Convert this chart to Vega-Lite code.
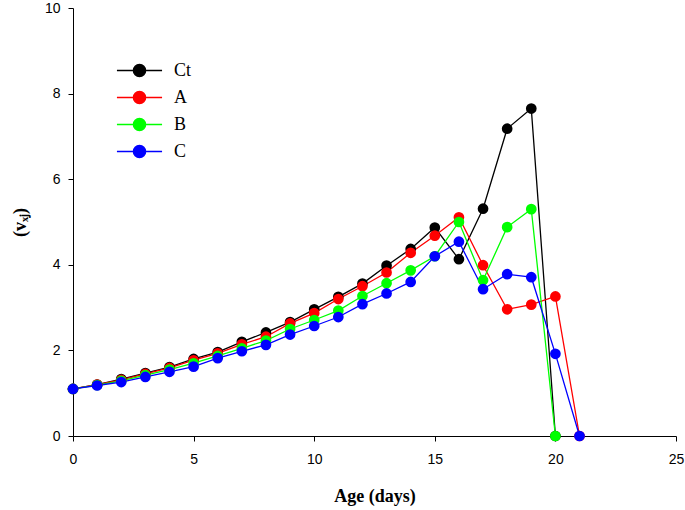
{
  "$schema": "https://vega.github.io/schema/vega-lite/v6.json",
  "width": 603,
  "height": 428,
  "autosize": {"type": "none"},
  "padding": {"left": 73, "top": 8, "right": 9, "bottom": 74},
  "background": "white",
  "config": {
    "view": {"stroke": null},
    "axis": {
      "grid": false,
      "labelFlush": false,
      "domainColor": "black",
      "tickColor": "black",
      "tickSize": 5,
      "labelFont": "Liberation Sans",
      "labelFontSize": 14,
      "labelColor": "black",
      "titleFont": "Liberation Serif",
      "titleFontSize": 18,
      "titleFontWeight": "bold",
      "titleColor": "black"
    }
  },
  "datasets": {
    "d": [
      {"s":"Ct","d":0,"v":1.1},{"s":"Ct","d":1,"v":1.2},{"s":"Ct","d":2,"v":1.33},{"s":"Ct","d":3,"v":1.47},{"s":"Ct","d":4,"v":1.61},{"s":"Ct","d":5,"v":1.8},{"s":"Ct","d":6,"v":1.96},{"s":"Ct","d":7,"v":2.2},{"s":"Ct","d":8,"v":2.42},{"s":"Ct","d":9,"v":2.66},{"s":"Ct","d":10,"v":2.96},{"s":"Ct","d":11,"v":3.25},{"s":"Ct","d":12,"v":3.56},{"s":"Ct","d":13,"v":3.98},{"s":"Ct","d":14,"v":4.37},{"s":"Ct","d":15,"v":4.87},{"s":"Ct","d":16,"v":4.13},{"s":"Ct","d":17,"v":5.31},{"s":"Ct","d":18,"v":7.18},{"s":"Ct","d":19,"v":7.65},{"s":"Ct","d":20,"v":0},
      {"s":"A","d":0,"v":1.1},{"s":"A","d":1,"v":1.2},{"s":"A","d":2,"v":1.31},{"s":"A","d":3,"v":1.45},{"s":"A","d":4,"v":1.59},{"s":"A","d":5,"v":1.77},{"s":"A","d":6,"v":1.93},{"s":"A","d":7,"v":2.14},{"s":"A","d":8,"v":2.32},{"s":"A","d":9,"v":2.63},{"s":"A","d":10,"v":2.87},{"s":"A","d":11,"v":3.2},{"s":"A","d":12,"v":3.5},{"s":"A","d":13,"v":3.82},{"s":"A","d":14,"v":4.28},{"s":"A","d":15,"v":4.68},{"s":"A","d":16,"v":5.11},{"s":"A","d":17,"v":3.99},{"s":"A","d":18,"v":2.96},{"s":"A","d":19,"v":3.07},{"s":"A","d":20,"v":3.26},{"s":"A","d":21,"v":0},
      {"s":"B","d":0,"v":1.1},{"s":"B","d":1,"v":1.19},{"s":"B","d":2,"v":1.29},{"s":"B","d":3,"v":1.42},{"s":"B","d":4,"v":1.55},{"s":"B","d":5,"v":1.7},{"s":"B","d":6,"v":1.87},{"s":"B","d":7,"v":2.05},{"s":"B","d":8,"v":2.23},{"s":"B","d":9,"v":2.5},{"s":"B","d":10,"v":2.71},{"s":"B","d":11,"v":2.93},{"s":"B","d":12,"v":3.27},{"s":"B","d":13,"v":3.57},{"s":"B","d":14,"v":3.87},{"s":"B","d":15,"v":4.2},{"s":"B","d":16,"v":5.0},{"s":"B","d":17,"v":3.64},{"s":"B","d":18,"v":4.88},{"s":"B","d":19,"v":5.3},{"s":"B","d":20,"v":0},
      {"s":"C","d":0,"v":1.1},{"s":"C","d":1,"v":1.18},{"s":"C","d":2,"v":1.26},{"s":"C","d":3,"v":1.38},{"s":"C","d":4,"v":1.5},{"s":"C","d":5,"v":1.62},{"s":"C","d":6,"v":1.82},{"s":"C","d":7,"v":1.98},{"s":"C","d":8,"v":2.13},{"s":"C","d":9,"v":2.37},{"s":"C","d":10,"v":2.57},{"s":"C","d":11,"v":2.78},{"s":"C","d":12,"v":3.08},{"s":"C","d":13,"v":3.33},{"s":"C","d":14,"v":3.6},{"s":"C","d":15,"v":4.2},{"s":"C","d":16,"v":4.54},{"s":"C","d":17,"v":3.43},{"s":"C","d":18,"v":3.78},{"s":"C","d":19,"v":3.71},{"s":"C","d":20,"v":1.92},{"s":"C","d":21,"v":0}
    ]
  },
  "data": {"name": "d"},
  "encoding": {
    "x": {"field": "d", "type": "quantitative", "scale": {"domain": [0, 25], "nice": false, "zero": false},
      "axis": {"values": [0,5,10,15,20,25], "title": "Age (days)", "titlePadding": 21, "labelPadding": 11}},
    "y": {"field": "v", "type": "quantitative", "scale": {"domain": [0, 10], "nice": false},
      "axis": {"values": [0,2,4,6,8,10], "title": "(vₓⱼ)", "titlePadding": 15, "labelPadding": 8}},
    "color": {"field": "s", "type": "nominal",
      "scale": {"domain": ["Ct","A","B","C"], "range": ["#000000","#ff0000","#00ff00","#0000ff"]},
      "legend": {
        "title": null,
        "orient": "none",
        "legendX": 49,
        "legendY": 45,
        "symbolType": "M-1.38,0L1.38,0M-0.37,0A0.37,0.37,0,1,1,0.37,0A0.37,0.37,0,1,1,-0.37,0Z",
        "symbolSize": 1069,
        "symbolStrokeWidth": 1.5,
        "labelFont": "Liberation Serif",
        "labelFontSize": 18,
        "labelColor": "black",
        "labelOffset": 17,
        "rowPadding": 0,
        "encode": {"symbols": {"update": {"fill": {"scale": "color", "field": "value"}, "stroke": {"scale": "color", "field": "value"}, "opacity": {"value": 1}}}}
      }}
  },
  "layer": [
    {"mark": {"type": "line", "strokeWidth": 1.3, "clip": false}, "encoding": {"detail": {"field": "s"}}},
    {"mark": {"type": "point", "filled": true, "size": 115, "opacity": 1, "clip": false}}
  ]
}
